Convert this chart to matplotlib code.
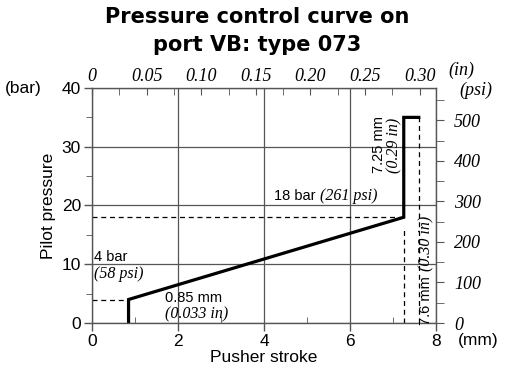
import numpy as np
import matplotlib.pyplot as plt
from matplotlib.ticker import MultipleLocator

BAR_TO_PSI = 14.5038
MM_PER_IN = 25.4

# control curve: pusher stroke (mm) vs pilot pressure (bar)
stroke = [0.85, 0.85, 7.25, 7.25, 7.6]
pressure = [0, 4, 18, 35, 35]

start_mm, start_bar = 0.85, 4
knee_mm, knee_bar = 7.25, 18
end_mm, top_bar = 7.6, 35

mm_ticks = [0, 2, 4, 6, 8]
bar_ticks = [0, 10, 20, 30, 40]
in_ticks = [0, 0.05, 0.10, 0.15, 0.20, 0.25, 0.30]
in_labels = ['0', '0.05', '0.10', '0.15', '0.20', '0.25', '0.30']
psi_ticks = [0, 100, 200, 300, 400, 500]

SANS = 'Liberation Sans'
SERIF = 'Liberation Serif'
GREY = '#555555'

plt.rcParams['font.family'] = SANS

fig = plt.figure(figsize=(5.06, 3.71), dpi=100)
ax = fig.add_axes([92/506, 1 - 323/371, 344/506, 235/371])
ax.set_xlim(0, 8)
ax.set_ylim(0, 40)

ax.set_xticks(mm_ticks)
ax.set_yticks(bar_ticks)
ax.xaxis.set_minor_locator(MultipleLocator(1))
ax.yaxis.set_minor_locator(MultipleLocator(5))
ax.grid(True, which='major', color=GREY, lw=0.9)
for s in ax.spines.values():
    s.set_color(GREY)
    s.set_linewidth(1.0)

ax.tick_params(axis='both', which='major', labelsize=12.5, color=GREY,
               width=1, length=6, pad=2)
ax.tick_params(axis='y', which='minor', direction='out', length=4, color=GREY)
ax.tick_params(axis='x', which='minor', direction='in', length=4, color=GREY)

# inch scale on top
top = ax.secondary_xaxis('top', functions=(lambda x: x / MM_PER_IN,
                                           lambda x: x * MM_PER_IN))
top.set_xticks(in_ticks, in_labels, fontfamily=SERIF, fontstyle='italic',
               fontsize=13)
top.xaxis.set_minor_locator(MultipleLocator(0.025))
top.tick_params(which='both', direction='in', length=5, color=GREY, pad=2)
top.spines['top'].set_visible(False)

# psi scale on the right
right = ax.secondary_yaxis('right', functions=(lambda y: y * BAR_TO_PSI,
                                               lambda y: y / BAR_TO_PSI))
right.set_yticks(psi_ticks, [str(v) for v in psi_ticks], fontfamily=SERIF,
                 fontstyle='italic', fontsize=13)
right.yaxis.set_minor_locator(MultipleLocator(50))
right.tick_params(which='both', direction='out', length=6, color=GREY, pad=7)
right.spines['right'].set_visible(False)

# reference dashes
dash = dict(color='black', lw=0.9, ls=(0, (4, 3)))
ax.plot([0, start_mm], [start_bar, start_bar], **dash)
ax.plot([0, knee_mm], [knee_bar, knee_bar], **dash)
ax.plot([knee_mm, knee_mm], [0, knee_bar - 1.6], **dash)
ax.plot([end_mm, end_mm], [0, top_bar], **dash)

ax.plot(stroke, pressure, color='black', lw=2.3, solid_joinstyle='miter')

# annotations
ax.text(0.05, 11.3, '4 bar', fontsize=10.5, va='center')
ax.text(0.05, 8.4, '(58 psi)', fontsize=11.5, va='center',
        fontfamily=SERIF, fontstyle='italic')
ax.text(1.7, 4.3, '0.85 mm', fontsize=10.5, va='center')
ax.text(1.7, 1.4, '(0.033 in)', fontsize=11.5, va='center',
        fontfamily=SERIF, fontstyle='italic')
ax.text(4.23, 21.6, '18 bar', fontsize=10.5, va='center')
ax.text(5.3, 21.6, '(261 psi)', fontsize=11.5, va='center',
        fontfamily=SERIF, fontstyle='italic')
ax.text(6.67, 30.3, '7.25 mm', fontsize=10.5, rotation=90,
        ha='center', va='center')
ax.text(7.03, 30.3, '(0.29 in)', fontsize=11.5, rotation=90,
        ha='center', va='center', fontfamily=SERIF, fontstyle='italic')
ax.text(7.77, 3.9, '7.6 mm', fontsize=10.5, rotation=90,
        ha='center', va='center')
ax.text(7.77, 13.5, '(0.30 in)', fontsize=11.5, rotation=90,
        ha='center', va='center', fontfamily=SERIF, fontstyle='italic')

# axis titles and units
ax.set_ylabel('Pilot pressure', fontsize=12.5, labelpad=4)
ax.set_xlabel('Pusher stroke', fontsize=12.5, labelpad=1)
fig.text(5/506, 1 - 88/371, '(bar)', fontsize=12.5, va='center')
fig.text(458/506, 1 - 341/371, '(mm)', fontsize=12.5, va='center')
fig.text(448/506, 1 - 70/371, '(in)', fontsize=13, va='center',
         fontfamily=SERIF, fontstyle='italic')
fig.text(459/506, 1 - 90/371, '(psi)', fontsize=13, va='center',
         fontfamily=SERIF, fontstyle='italic')

fig.text(257/506, 1 - 17/371, 'Pressure control curve on', fontsize=15,
         fontweight='bold', fontfamily='DejaVu Sans', ha='center', va='center')
fig.text(257/506, 1 - 45/371, 'port VB: type 073', fontsize=15,
         fontweight='bold', fontfamily='DejaVu Sans', ha='center', va='center')

fig.savefig('out.png', dpi=100)
